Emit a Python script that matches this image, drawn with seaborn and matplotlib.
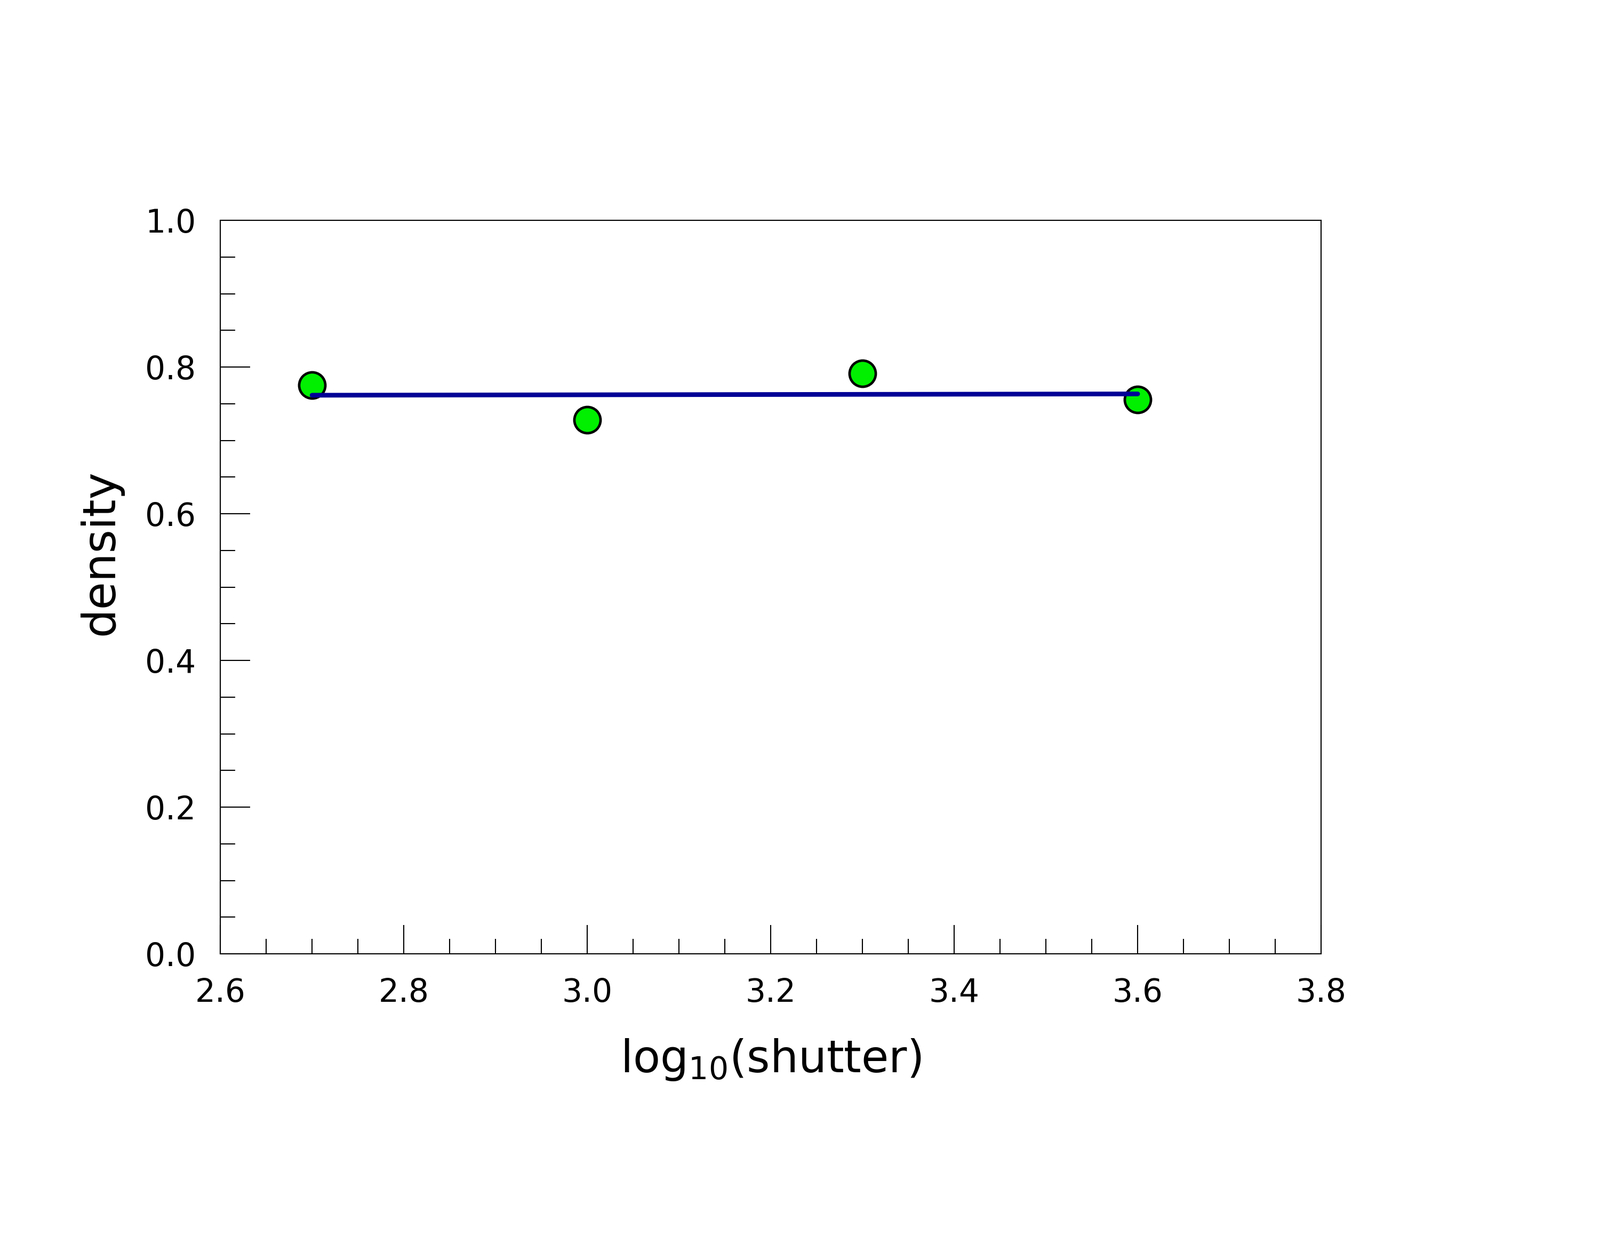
import numpy as np
import pandas as pd
import matplotlib
matplotlib.use('Agg')
import matplotlib.pyplot as plt
from matplotlib.ticker import MultipleLocator, FormatStrFormatter
import seaborn as sns

# values
log_shutter = [2.7, 3.0, 3.3, 3.6]
density = [0.775, 0.728, 0.791, 0.756]

df = pd.DataFrame({'log_shutter': log_shutter, 'density': density})

sns.set_style('ticks')
plt.rcParams['font.family'] = ['DejaVu Sans']
plt.rcParams['mathtext.default'] = 'regular'
plt.rcParams['text.color'] = 'black'
plt.rcParams['axes.labelcolor'] = 'black'

fig = plt.figure(figsize=(30, 23.17), dpi=100)
ax = fig.add_axes([0.1377, 0.2283, 0.688, 0.5934])

sns.regplot(data=df, x='log_shutter', y='density', ci=None, ax=ax,
            scatter_kws=dict(s=1250, color='#00F000', edgecolors='black',
                             linewidths=3.4, alpha=1),
            line_kws=dict(color='#000096', lw=6.3, solid_capstyle='round'))

ax.set_xlim(2.6, 3.8)
ax.set_ylim(0.0, 1.0)
ax.xaxis.set_major_locator(MultipleLocator(0.2))
ax.xaxis.set_minor_locator(MultipleLocator(0.05))
ax.yaxis.set_major_locator(MultipleLocator(0.2))
ax.yaxis.set_minor_locator(MultipleLocator(0.05))
ax.xaxis.set_major_formatter(FormatStrFormatter('%.1f'))
ax.yaxis.set_major_formatter(FormatStrFormatter('%.1f'))

ax.tick_params(which='both', direction='in', width=1.5, colors='black',
               labelcolor='black', labelsize=43, top=False, right=False)
ax.tick_params(axis='x', which='major', length=39, pad=32)
ax.tick_params(axis='y', which='major', length=40, pad=33)
ax.tick_params(which='minor', length=20)

for sp in ax.spines.values():
    sp.set_visible(True)
    sp.set_linewidth(1.5)
    sp.set_color('black')

ax.set_xlabel('log$_{10}$(shutter)', fontsize=60, labelpad=38, color='black')
ax.set_ylabel('density', fontsize=61, labelpad=30, color='black', y=0.547)

fig.savefig('out.png', dpi=100, facecolor='white')
